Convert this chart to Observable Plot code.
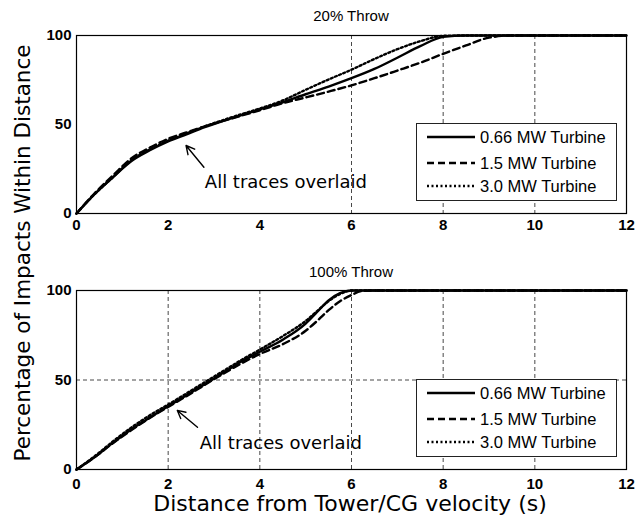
<!DOCTYPE html>
<html>
<head>
<meta charset="utf-8">
<script src="https://cdn.jsdelivr.net/npm/d3@7"></script>
<script src="https://cdn.jsdelivr.net/npm/@observablehq/plot@0.6"></script>
<style>
  html, body { margin: 0; padding: 0; background: #fff; }
  #wrap { position: relative; width: 635px; height: 524px; background: #fff; overflow: hidden; }
  .abs { position: absolute; }
  .biglabel { font-family: "DejaVu Sans", sans-serif; color: #000; white-space: nowrap; }
  .ptitle { font-family: "Liberation Sans", Arial, sans-serif; font-size: 15px; color: #000; white-space: nowrap; transform: translate(-50%, -50%); }
</style>
</head>
<body>
<div id="wrap"></div>
<script>
// ---------- data ----------
const turbines = ["0.66 MW Turbine", "1.5 MW Turbine", "3.0 MW Turbine"];
const dashes = [null, "7,4", "2,2.5"];

// 20% Throw panel
const xs20 = [0,0.4,0.8,1.2,1.6,2.0,2.4,2.8,3.2,3.6,4.0,4.5,5.0,5.5,6.0,6.5,7.0,7.5,8.0,8.5,9.0,9.5,10,12];
const solid20  = [0,11,20.5,29.5,35.5,40.5,44.5,48.5,52,55.3,58.5,62.5,67,71.3,76,81.2,87.5,94,99.2,100,100,100,100,100];
const dashed20 = [0,11.5,21.5,31,37,42,45.5,49,52,55,58,62,65.2,68.5,72,76,80.3,84.7,89.7,94.4,98.8,100,100,100];
const dotted20 = [0,11,20.5,30,36,41,45,49,52.5,55.8,59,63.5,69.5,75.3,80.8,86.8,92.3,96.8,99.8,100,100,100,100,100];

// 100% Throw panel
const xs100 = [0,0.4,0.8,1.2,1.6,2.0,2.4,2.8,3.2,3.6,4.0,4.5,5.0,5.25,5.5,5.75,6.0,6.25,6.5,12];
const solid100  = [0,7,15,22.5,29,35.3,41.5,47.7,54,60.3,65.8,72.5,81.5,88,94.5,98.5,100,100,100,100];
const dashed100 = [0,7,14.8,22,28.8,35,41,47.3,53.5,59.3,64.5,70,77.5,83,89,94,97.5,99.8,100,100];
const dotted100 = [0,7.5,15.8,23.5,30.3,36.3,42.5,48.8,55,61.2,67,74.5,83,88.5,94,98,100,100,100,100];

const xTicks = [0,2,4,6,8,10,12];
const yTicks = [0,50,100];
const gridX20 = [6,8,10];
const gridY20 = [];
const gridX100 = [2,4,6,8,10];
const gridY100 = [50];

const titles = ["20% Throw", "100% Throw"];
const annotText = "All traces overlaid";
const arrow20 = [{x1: 2.78, y1: 26, x2: 2.39, y2: 38.2}];
const arrow100 = [{x1: 2.64, y1: 23.6, x2: 2.2, y2: 33}];
const annot20 = [{x: 2.8, y: 17.4}];
const annot100 = [{x: 2.69, y: 14.5}];

const xLabel = "Distance from Tower/CG velocity (s)";
const yLabel = "Percentage of Impacts Within Distance";

// ---------- drawing ----------
function makeRows(xs, seriesVals) {
  return seriesVals.map((vals, k) => xs.map((x, i) => ({x, y: vals[i], name: turbines[k]})));
}

function panel({xs, vals, gridX, gridY, arrow, annot, height, marginBottom, xPad}) {
  const rows = makeRows(xs, vals);
  return Plot.plot({
    width: 635,
    height,
    marginLeft: 76,
    marginRight: 9,
    marginTop: 35,
    marginBottom,
    style: {fontFamily: "'Liberation Sans', Arial, sans-serif", fontSize: "15px", fontWeight: "bold", color: "#000", background: "transparent", overflow: "visible"},
    x: {domain: [0, 12], ticks: xTicks, tickSize: 0, tickPadding: xPad, label: null, tickFormat: d => String(d)},
    y: {domain: [0, 100], ticks: yTicks, tickSize: 0, tickPadding: 5, label: null, tickFormat: d => String(d)},
    marks: [
      Plot.ruleX(gridX, {stroke: "#333", strokeWidth: 0.9, strokeDasharray: "4,3"}),
      Plot.ruleY(gridY, {stroke: "#333", strokeWidth: 0.9, strokeDasharray: "4,3"}),
      ...rows.map((r, k) => Plot.line(r, {x: "x", y: "y", stroke: "#000", strokeWidth: 2.4,
        strokeDasharray: dashes[k] || undefined, curve: "monotone-x"})),
      Plot.frame({stroke: "#000", strokeWidth: 1.2}),
      Plot.arrow(arrow, {x1: "x1", y1: "y1", x2: "x2", y2: "y2", stroke: "#000", strokeWidth: 1.4, headLength: 13, headAngle: 55}),
      Plot.text(annot, {x: "x", y: "y", text: () => annotText, textAnchor: "start", lineAnchor: "middle",
        fontFamily: "'DejaVu Sans', sans-serif", fontSize: 18, fontWeight: "normal", fill: "#000"})
    ]
  });
}

const wrap = document.getElementById("wrap");

const p1 = panel({xs: xs20, vals: [solid20, dashed20, dotted20], gridX: gridX20, gridY: gridY20,
  arrow: arrow20, annot: annot20, height: 250, marginBottom: 37, xPad: 6});
p1.classList.add("abs"); p1.style.left = "0px"; p1.style.top = "0px";
wrap.appendChild(p1);

const p2 = panel({xs: xs100, vals: [solid100, dashed100, dotted100], gridX: gridX100, gridY: gridY100,
  arrow: arrow100, annot: annot100, height: 269, marginBottom: 55, xPad: 9});
p2.classList.add("abs"); p2.style.left = "0px"; p2.style.top = "255px";
wrap.appendChild(p2);

// panel titles
[[titles[0], 15], [titles[1], 271]].forEach(([t, cy]) => {
  const d = document.createElement("div");
  d.className = "abs ptitle";
  d.textContent = t;
  d.style.left = "351px"; d.style.top = cy + "px";
  wrap.appendChild(d);
});

// legends
function legend(left, top) {
  const svg = d3.create("svg").attr("class", "abs").attr("width", 201).attr("height", 78)
    .style("left", left + "px").style("top", top + "px");
  svg.append("rect").attr("x", 0.5).attr("y", 0.5).attr("width", 200).attr("height", 77)
    .attr("fill", "#fff").attr("stroke", "#222").attr("stroke-width", 1);
  const rowsY = [14, 40, 63];
  turbines.forEach((t, k) => {
    svg.append("line").attr("x1", 11).attr("x2", 59).attr("y1", rowsY[k]).attr("y2", rowsY[k])
      .attr("stroke", "#000").attr("stroke-width", 2.4)
      .attr("stroke-dasharray", dashes[k]);
    svg.append("text").attr("x", 64).attr("y", rowsY[k]).attr("dy", "0.36em")
      .attr("font-family", "'Liberation Sans', Arial, sans-serif").attr("font-size", 16.5)
      .attr("fill", "#000").text(t);
  });
  wrap.appendChild(svg.node());
}
legend(416, 123);
legend(416, 379);

// axis labels
const yl = document.createElement("div");
yl.className = "abs biglabel";
yl.textContent = yLabel;
yl.style.fontSize = "21.5px";
yl.style.left = "22px"; yl.style.top = "253px";
yl.style.transform = "translate(-50%, -50%) rotate(-90deg)";
wrap.appendChild(yl);

const xl = document.createElement("div");
xl.className = "abs biglabel";
xl.textContent = xLabel;
xl.style.fontSize = "22px";
xl.style.left = "350px"; xl.style.top = "503px";
xl.style.transform = "translate(-50%, -50%)";
wrap.appendChild(xl);
</script>
</body>
</html>
